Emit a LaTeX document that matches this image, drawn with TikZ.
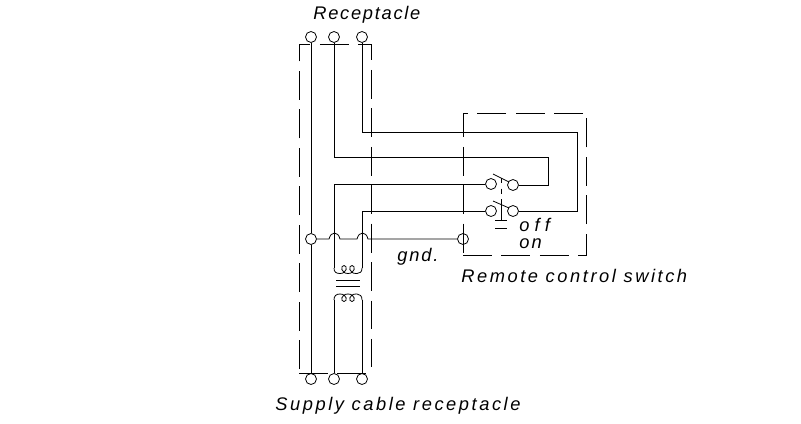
\documentclass[tikz,border=0pt]{standalone}
\usepackage{fontspec}
\setmainfont{Liberation Sans}
\usepackage{tikz}
\usetikzlibrary{calc}
\tikzstyle{terminal} = [circle, draw=black, minimum size=0.22cm, inner sep=0pt, line width=0.45pt]
\tikzstyle{wire} = [line width=0.45pt, draw=black]
\tikzstyle{caja} = [line width=0.45pt, draw=black, dash pattern=on 16.44pt off 5.44pt]
\tikzstyle{rotulo} = [anchor=west, inner sep=0pt, font=\fontsize{10.4pt}{11pt}\itshape\addfontfeatures{LetterSpace=14}]
\begin{document}
\begin{tikzpicture}[x=0.02cm, y=-0.02cm]
	\useasboundingbox (0,0) rectangle (801,423);
	% Cajas
	\draw[caja] (299,369) -- (299,44) -- (371,44) -- (371,367);
	\draw[caja] (299,373) -- (371,373);
	\draw[caja] (463,255) -- (586,255) -- (586,118);
	\draw[caja] (583,113) -- (463,113) -- (463,255);
	% Terminales
	\node (topa) [terminal] at (311,37) {};
	\node (topb) [terminal] at (334,37) {};
	\node (topc) [terminal] at (362,37) {};
	\node (bota) [terminal] at (311,379) {};
	\node (botb) [terminal] at (334,379) {};
	\node (botc) [terminal] at (362,379) {};
	\node (med) [terminal] at (311,239) {};
	\node (gnd) [terminal] at (463,239) {};
	\node (swal) [terminal] at (491,184) {};
	\node (swar) [terminal] at (513,185) {};
	\node (swbl) [terminal] at (491,211) {};
	\node (swbr) [terminal] at (513,211) {};
	% Puntos
	\coordinate (cb1) at (334,157);
	\coordinate (cb2) at (548,157);
	\coordinate (cb3) at (548,185);
	\coordinate (cc1) at (362,132);
	\coordinate (cc2) at (577,132);
	\coordinate (cc3) at (577,211);
	\coordinate (cd1) at (334,184);
	\coordinate (cd2) at (334,268);
	\coordinate (ce1) at (362,211);
	\coordinate (ce2) at (362,268);
	\coordinate (cf1) at (334,300);
	\coordinate (cf2) at (362,300);
	% Conductores
	\draw[wire] (topa) -- (med);
	\draw[wire] (med) -- (bota);
	\draw[wire] (topb) -- (cb1) -- (cb2) -- (cb3) -- (swar);
	\draw[wire] (topc) -- (cc1) -- (cc2) -- (cc3) -- (swbr);
	\draw[wire] (swal) -- (cd1) -- (cd2);
	\draw[wire] (swbl) -- (ce1) -- (ce2);
	\draw[wire] (cf1) -- (botb);
	\draw[wire] (cf2) -- (botc);
	% Linea de tierra con saltos
	\draw[wire] (med) -- (329,239) .. controls (331,231) and (338,231) .. (340,239) -- (357,239)
		.. controls (359,231) and (366,231) .. (368,239) -- (gnd);
	% Transformador
	\draw[wire] (cd2) .. controls (334,272) and (336,273.5) .. (340,273.5)
		.. controls (347,273.5) and (348,265.5) .. (344,265.5) .. controls (340,265.5) and (341,273.5) .. (348,273.5)
		.. controls (355,273.5) and (356,265.5) .. (352,265.5) .. controls (348,265.5) and (349,273.5) .. (356,273.5)
		-- (357,273.5) .. controls (360,273.5) and (362,272) .. (ce2);
	\draw[wire] (336,280) -- (360,280);
	\draw[wire] (336,286) -- (360,286);
	\draw[wire] (cf1) .. controls (334,296) and (336,294) .. (340,294)
		.. controls (347,294) and (348,301.5) .. (344,301.5) .. controls (340,301.5) and (341,294) .. (348,294)
		.. controls (355,294) and (356,301.5) .. (352,301.5) .. controls (348,301.5) and (349,294) .. (356,294)
		-- (357,294) .. controls (360,294) and (362,296) .. (cf2);
	% Interruptor
	\draw[wire] (493,174) -- (509,182);
	\draw[wire] (493,201) -- (509,208);
	\draw[wire, dashed] (501,178) -- (501,204);
	\draw[wire] (501,204) -- (501,220);
	\draw[wire] (495,220) -- (507,220);
	\draw[wire] (495,228) -- (507,228);
	% Textos
	\node (lrec) [rotulo] at (313,14.5) {\addfontfeature{LetterSpace=9.5}Receptacle};
	\node (lsup) [rotulo] at (275,405.5) {Supply cable receptacle};
	\node (lgnd) [rotulo] at (397,257) {\addfontfeature{LetterSpace=10}gnd.};
	\node (loff) [rotulo] at (519,225) {\addfontfeature{LetterSpace=28}off};
	\node (lon) [rotulo] at (519,244) {\addfontfeature{LetterSpace=12}on};
	\node (lrem) [rotulo] at (461,276) {Remote control switch};
\end{tikzpicture}
\end{document}
